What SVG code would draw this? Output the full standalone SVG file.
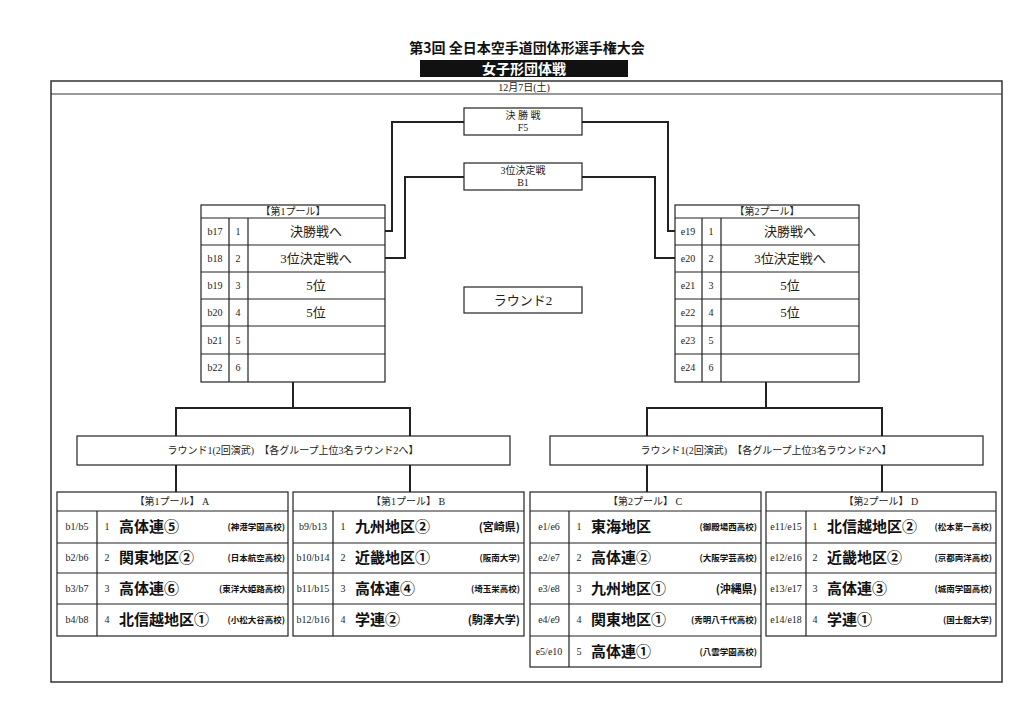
<svg xmlns="http://www.w3.org/2000/svg" width="1024" height="724" viewBox="0 0 1024 724">
<style>
.b{fill:#fff;stroke:#222;stroke-width:1.2}
.l{fill:none;stroke:#222;stroke-width:2}
.s{font-family:"Liberation Serif","Noto Sans CJK JP",serif;font-size:10px;fill:#222;text-anchor:middle}
.m{font-family:"Liberation Serif","Noto Sans CJK JP",serif;font-size:13px;fill:#222;text-anchor:middle}
.n{font-family:"Noto Sans CJK JP",sans-serif;font-size:15px;font-weight:bold;fill:#111}
.c{font-family:"Noto Sans CJK JP",sans-serif;font-size:8.5px;font-weight:bold;fill:#111;text-anchor:end}
.c2{font-family:"Noto Sans CJK JP",sans-serif;font-size:11px;font-weight:bold;fill:#111;text-anchor:end}
</style>
<rect width="1024" height="724" fill="#fff"/>
<text x="527" y="53" font-family="Noto Sans CJK JP,sans-serif" font-size="14" font-weight="bold" text-anchor="middle" fill="#111">第3回 全日本空手道団体形選手権大会</text>
<rect x="420" y="60" width="208" height="17" fill="#111"/>
<text x="524" y="74" font-family="Noto Sans CJK JP,sans-serif" font-size="14" font-weight="bold" text-anchor="middle" fill="#fff">女子形団体戦</text>
<rect x="51" y="81" width="951" height="601" fill="none" stroke="#333" stroke-width="1.5"/>
<line x1="51" y1="94" x2="1002" y2="94" stroke="#333" stroke-width="1"/>
<text x="524" y="91" class="s" font-size="9">12月7日(土)</text>
<g id="connectors">
<path class="l" d="M385 231H392V122H464M582 122H668V231H675M385 258H405V177H464M582 177H655V258H675"/>
<path class="l" d="M293 382V408M176 436V408H410V436M176 465V492M410 465V492"/>
<path class="l" d="M766 382V408M647 436V408H882V436M647 465V492M882 465V492"/>
</g>
<g id="final"><rect class="b" x="464" y="108" width="118" height="27" stroke-width="2"/><text class="s" x="523" y="119">決 勝 戦</text><text class="s" x="523" y="131">F5</text></g>
<g id="third"><rect class="b" x="464" y="163" width="118" height="27" stroke-width="2"/><text class="s" x="523" y="174">3位決定戦</text><text class="s" x="523" y="186">B1</text></g>
<g id="round2"><rect class="b" x="464" y="287" width="118" height="26" stroke-width="2"/><text class="m" x="523" y="305" font-size="12">ラウンド2</text></g>
<g id="pool1">
<rect class="b" x="201" y="205" width="184" height="177"/>
<path stroke="#222" stroke-width="1.2" d="M201 218H385M201 245H385M201 272H385M201 299H385M201 326H385M201 354H385M229 218V382M248 218V382"/>
<text class="s" x="293" y="215">【第1プール】</text>
<g class="s"><text x="215" y="235">b17</text><text x="238" y="235">1</text><text x="215" y="262">b18</text><text x="238" y="262">2</text><text x="215" y="289">b19</text><text x="238" y="289">3</text><text x="215" y="316">b20</text><text x="238" y="316">4</text><text x="215" y="344">b21</text><text x="238" y="344">5</text><text x="215" y="371">b22</text><text x="238" y="371">6</text></g>
<text class="m" x="316" y="236">決勝戦へ</text><text class="m" x="316" y="263">3位決定戦へ</text><text class="m" x="316" y="290">5位</text><text class="m" x="316" y="317">5位</text>
</g>
<g id="pool2">
<rect class="b" x="675" y="205" width="184" height="177"/>
<path stroke="#222" stroke-width="1.2" d="M675 218H859M675 245H859M675 272H859M675 299H859M675 326H859M675 354H859M702 218V382M721 218V382"/>
<text class="s" x="767" y="215">【第2プール】</text>
<g class="s"><text x="688" y="235">e19</text><text x="711" y="235">1</text><text x="688" y="262">e20</text><text x="711" y="262">2</text><text x="688" y="289">e21</text><text x="711" y="289">3</text><text x="688" y="316">e22</text><text x="711" y="316">4</text><text x="688" y="344">e23</text><text x="711" y="344">5</text><text x="688" y="371">e24</text><text x="711" y="371">6</text></g>
<text class="m" x="790" y="236">決勝戦へ</text><text class="m" x="790" y="263">3位決定戦へ</text><text class="m" x="790" y="290">5位</text><text class="m" x="790" y="317">5位</text>
</g>
<g id="round1-left"><rect class="b" x="77" y="436" width="433" height="29" stroke-width="1.5"/><text class="s" x="293" y="454">ラウンド1(2回演武)　【各グループ上位3名ラウンド2へ】</text></g>
<g id="round1-right"><rect class="b" x="550" y="436" width="433" height="29" stroke-width="1.5"/><text class="s" x="766" y="454">ラウンド1(2回演武)　【各グループ上位3名ラウンド2へ】</text></g>
<g id="groupA">
<rect class="b" x="57" y="492" width="231" height="144"/>
<path stroke="#222" stroke-width="1.2" d="M57 511H288M57 543H288M57 573H288M57 604H288M97 511V636"/>
<text class="s" x="172" y="505">【第1プール】 A</text>
<g class="s" font-size="9"><text x="77" y="530">b1/b5</text><text x="77" y="561">b2/b6</text><text x="77" y="592">b3/b7</text><text x="77" y="623">b4/b8</text><text x="107" y="530">1</text><text x="107" y="561">2</text><text x="107" y="592">3</text><text x="107" y="623">4</text></g>
<text class="n" x="119" y="532">高体連⑤</text><text class="n" x="119" y="563">関東地区②</text><text class="n" x="119" y="594">高体連⑥</text><text class="n" x="119" y="625">北信越地区①</text>
<text class="c" x="285" y="530">(神港学園高校)</text><text class="c" x="285" y="561">(日本航空高校)</text><text class="c" x="285" y="592">(東洋大姫路高校)</text><text class="c" x="285" y="623">(小松大谷高校)</text>
</g>
<g id="groupB">
<rect class="b" x="293" y="492" width="231" height="144"/>
<path stroke="#222" stroke-width="1.2" d="M293 511H524M293 543H524M293 573H524M293 604H524M333 511V636"/>
<text class="s" x="408" y="505">【第1プール】 B</text>
<g class="s" font-size="9"><text x="313" y="530">b9/b13</text><text x="313" y="561">b10/b14</text><text x="313" y="592">b11/b15</text><text x="313" y="623">b12/b16</text><text x="343" y="530">1</text><text x="343" y="561">2</text><text x="343" y="592">3</text><text x="343" y="623">4</text></g>
<text class="n" x="355" y="532">九州地区②</text><text class="n" x="355" y="563">近畿地区①</text><text class="n" x="355" y="594">高体連④</text><text class="n" x="355" y="625">学連②</text>
<text class="c2" x="520" y="531">(宮崎県)</text><text class="c" x="520" y="561">(阪南大学)</text><text class="c" x="520" y="592">(埼玉栄高校)</text><text class="c2" x="520" y="624">(駒澤大学)</text>
</g>
<g id="groupC">
<rect class="b" x="530" y="492" width="231" height="175"/>
<path stroke="#222" stroke-width="1.2" d="M530 511H761M530 543H761M530 573H761M530 604H761M530 636H761M569 511V667"/>
<text class="s" x="645" y="505">【第2プール】 C</text>
<g class="s" font-size="9"><text x="549" y="530">e1/e6</text><text x="549" y="561">e2/e7</text><text x="549" y="592">e3/e8</text><text x="549" y="623">e4/e9</text><text x="549" y="655">e5/e10</text><text x="579" y="530">1</text><text x="579" y="561">2</text><text x="579" y="592">3</text><text x="579" y="623">4</text><text x="579" y="655">5</text></g>
<text class="n" x="591" y="532">東海地区</text><text class="n" x="591" y="563">高体連②</text><text class="n" x="591" y="594">九州地区①</text><text class="n" x="591" y="625">関東地区①</text><text class="n" x="591" y="657">高体連①</text>
<text class="c" x="757" y="530">(御殿場西高校)</text><text class="c" x="757" y="561">(大阪学芸高校)</text><text class="c2" x="757" y="593">(沖縄県)</text><text class="c" x="757" y="623" font-size="7">(秀明八千代高校)</text><text class="c" x="757" y="655" font-size="7.5">(八雲学園高校)</text>
</g>
<g id="groupD">
<rect class="b" x="766" y="492" width="230" height="144"/>
<path stroke="#222" stroke-width="1.2" d="M766 511H996M766 543H996M766 573H996M766 604H996M806 511V636"/>
<text class="s" x="881" y="505">【第2プール】 D</text>
<g class="s" font-size="9"><text x="786" y="530">e11/e15</text><text x="786" y="561">e12/e16</text><text x="786" y="592">e13/e17</text><text x="786" y="623">e14/e18</text><text x="815" y="530">1</text><text x="815" y="561">2</text><text x="815" y="592">3</text><text x="815" y="623">4</text></g>
<text class="n" x="827" y="532">北信越地区②</text><text class="n" x="827" y="563">近畿地区②</text><text class="n" x="827" y="594">高体連③</text><text class="n" x="827" y="625">学連①</text>
<text class="c" x="992" y="530">(松本第一高校)</text><text class="c" x="992" y="561" font-size="7.5">(京都両洋高校)</text><text class="c" x="992" y="592">(城南学園高校)</text><text class="c" x="992" y="623">(国士舘大学)</text>
</g>
</svg>
